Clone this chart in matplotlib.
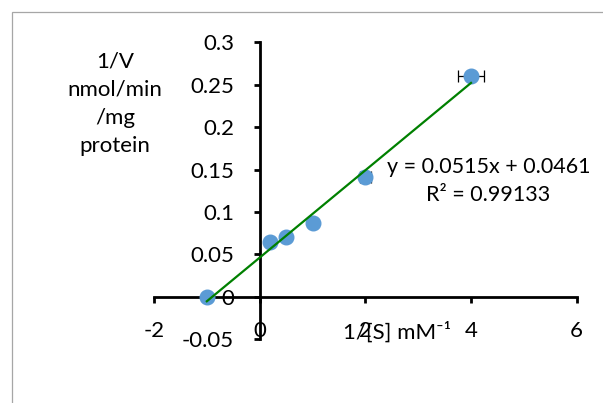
import matplotlib
matplotlib.use("Agg")
import matplotlib.pyplot as plt
from matplotlib.patches import Rectangle
import numpy as np

plt.rcParams['font.family'] = ['Lato', 'DejaVu Sans']
plt.rcParams['axes.unicode_minus'] = False

# data
inv_s = [-1, 0.2, 0.5, 1, 2, 4]
inv_v = [0.0, 0.065, 0.070, 0.087, 0.141, 0.260]
x_err = [0, 0, 0, 0, 0.11, 0.24]
slope = 0.0515
intercept = 0.0461
r2 = 0.99133

x_ticks = [-2, 0, 2, 4, 6]
x_tick_labels = ["-2", "0", "2", "4", "6"]
y_ticks = [-0.05, 0, 0.05, 0.1, 0.15, 0.2, 0.25, 0.3]
y_tick_labels = ["-0.05", "0", "0.05", "0.1", "0.15", "0.2", "0.25", "0.3"]

W, H = 603, 403
fig = plt.figure(figsize=(W / 100, H / 100), dpi=100)
ax = fig.add_axes([154 / W, 1 - 339.1 / H, (576.7 - 154) / W, (339.1 - 42.3) / H])

# chart area border (only left and top visible)
fig.patches.append(Rectangle((12 / W, -0.1), 1.2, 1 - 12 / H + 0.1, transform=fig.transFigure,
                             fill=False, edgecolor='#a6a6a6', linewidth=0.9))

ax.errorbar(inv_s, inv_v, xerr=x_err, fmt='none', ecolor='black', elinewidth=0.9,
            capsize=4.5, capthick=0.9, zorder=2)
ax.plot(inv_s, inv_v, 'o', color='#5b9bd5', markersize=10.5, zorder=3)

xs = np.array([min(inv_s), max(inv_s)])
ax.plot(xs, slope * xs + intercept, color='#008000', linewidth=1.6, zorder=4)

ax.set_xlim(-2, 6)
ax.set_ylim(-0.05, 0.3)
ax.set_xticks(x_ticks)
ax.set_xticklabels(x_tick_labels)
ax.set_yticks(y_ticks)
ax.set_yticklabels(y_tick_labels)

for s in ['top', 'right']:
    ax.spines[s].set_visible(False)
ax.spines['left'].set_position(('data', 0))
ax.spines['bottom'].set_position(('data', 0))
for s in ['left', 'bottom']:
    ax.spines[s].set_linewidth(2.0)
ax.tick_params(axis='both', direction='out', length=4.5, width=2.0, labelsize=16)
ax.tick_params(axis='x', pad=13)
ax.tick_params(axis='y', pad=14)
ax.patch.set_alpha(0)

ax.text(4.33, 0.137, "y = %.4fx + %.4f\nR² = %.5f" % (slope, intercept, r2),
        ha='center', va='center', fontsize=15.5, linespacing=1.5)

fig.text(115 / W, 1 - 104 / H, "1/V\nnmol/min\n/mg\nprotein", ha='center', va='center',
         fontsize=16, linespacing=1.5)
fig.text(343 / W, 1 - 332 / H, "1/[S] mM⁻¹", ha='left', va='center', fontsize=16)

fig.savefig("out.png", dpi=100)
